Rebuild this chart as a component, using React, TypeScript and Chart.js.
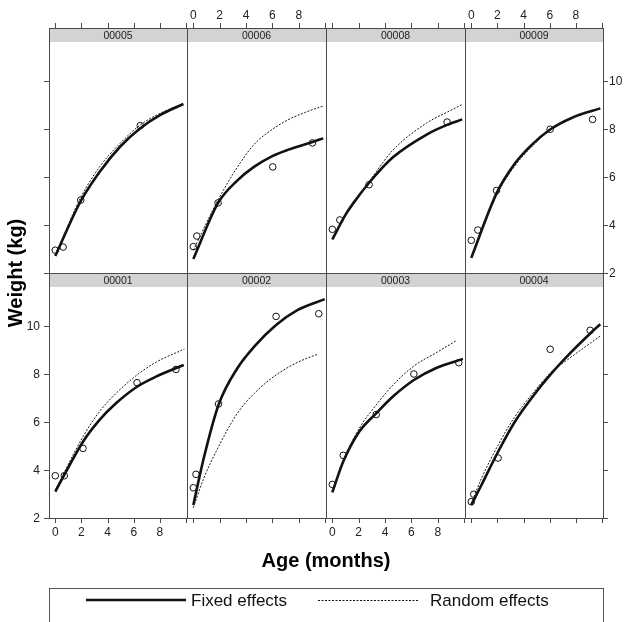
import React, { useEffect, useRef } from "react";
import { Chart, registerables } from "chart.js";

Chart.register(...registerables);

const FONT = "'Liberation Sans', Arial, Helvetica, sans-serif";

const X_MIN = -0.48;
const X_MAX = 10.07;
const Y_MIN = 2;
const Y_MAX = 11.625;
const X_TICKS = [0, 2, 4, 6, 8, 10];
const X_TICK_LABELS = ["0", "2", "4", "6", "8", ""];
const Y_TICKS = [2, 4, 6, 8, 10];
const Y_TICK_LABELS = ["2", "4", "6", "8", "10"];

// ---- panel 00005 ----
const OBS_AGE_00005 = [0, 0.6, 1.95, 6.5];
const OBS_WT_00005 = [2.95, 3.08, 5.04, 8.14];
const FIX_AGE_00005 = [0, 1.95, 3.4, 4.95, 6.5, 8.0, 9.8];
const FIX_WT_00005 = [2.71, 5.0, 6.22, 7.26, 8.03, 8.58, 9.04];
const RND_AGE_00005 = [0, 1.95, 3.4, 4.95, 6.5, 8.0, 9.8];
const RND_WT_00005 = [2.75, 5.15, 6.43, 7.4, 8.17, 8.65, 9.07];

// ---- panel 00006 ----
const OBS_AGE_00006 = [0, 0.27, 1.88, 6.03, 9.04];
const OBS_WT_00006 = [3.1, 3.54, 4.92, 6.42, 7.42];
const FIX_AGE_00006 = [0, 1.88, 3.33, 4.6, 6.03, 7.16, 9.04, 9.86];
const FIX_WT_00006 = [2.58, 4.92, 5.85, 6.42, 6.88, 7.13, 7.46, 7.61];
const RND_AGE_00006 = [0, 1.88, 3.33, 4.6, 6.03, 7.16, 8.43, 9.86];
const RND_WT_00006 = [2.95, 5.05, 6.4, 7.35, 8.0, 8.375, 8.68, 8.96];

// ---- panel 00008 ----
const OBS_AGE_00008 = [0, 0.57, 2.79, 8.71];
const OBS_WT_00008 = [3.82, 4.21, 5.68, 8.29];
const FIX_AGE_00008 = [0, 1.03, 1.54, 2.79, 4.6, 7.16, 8.71, 9.86];
const FIX_WT_00008 = [3.4, 4.45, 4.87, 5.76, 6.82, 7.77, 8.17, 8.4];
const RND_AGE_00008 = [0, 1.03, 2.79, 3.33, 4.6, 7.16, 8.71, 9.86];
const RND_WT_00008 = [3.4, 4.47, 5.8, 6.22, 7.12, 8.25, 8.7, 9.02];

// ---- panel 00009 ----
const OBS_AGE_00009 = [0, 0.5, 1.93, 6.03, 9.27];
const OBS_WT_00009 = [3.36, 3.79, 5.44, 7.99, 8.4];
const FIX_AGE_00009 = [0, 1.93, 3.33, 4.6, 6.03, 7.67, 9.86];
const FIX_WT_00009 = [2.63, 5.32, 6.56, 7.33, 7.98, 8.46, 8.86];
const RND_AGE_00009 = [0, 1.93, 3.33, 4.6, 6.03, 7.67, 9.86];
const RND_WT_00009 = [2.66, 5.22, 6.46, 7.25, 7.95, 8.45, 8.86];

// ---- panel 00001 ----
const OBS_AGE_00001 = [0, 0.69, 2.12, 6.25, 9.23];
const OBS_WT_00001 = [3.76, 3.76, 4.9, 7.64, 8.19];
const FIX_AGE_00001 = [0, 2.12, 3.37, 4.64, 6.25, 7.7, 9.82];
const FIX_WT_00001 = [3.1, 5.18, 6.08, 6.78, 7.47, 7.89, 8.375];
const RND_AGE_00001 = [0, 2.12, 3.37, 4.64, 6.25, 7.7, 9.87];
const RND_WT_00001 = [3.17, 5.39, 6.43, 7.19, 7.96, 8.49, 9.04];

// ---- panel 00002 ----
const OBS_AGE_00002 = [0, 0.2, 1.91, 6.28, 9.52];
const OBS_WT_00002 = [3.26, 3.82, 6.75, 10.4, 10.51];
const FIX_AGE_00002 = [0, 0.79, 1.91, 3.34, 4.62, 6.28, 7.93, 9.97];
const FIX_WT_00002 = [2.54, 4.49, 6.71, 8.24, 9.14, 10.04, 10.67, 11.12];
const RND_AGE_00002 = [0, 0.79, 1.91, 3.34, 4.62, 6.28, 7.93, 9.46];
const RND_WT_00002 = [2.43, 3.65, 4.97, 6.36, 7.19, 7.96, 8.49, 8.83];

// ---- panel 00003 ----
const OBS_AGE_00003 = [0, 0.83, 3.33, 6.19, 9.6];
const OBS_WT_00003 = [3.4, 4.61, 6.31, 8.0, 8.47];
const FIX_AGE_00003 = [0, 0.83, 2.05, 3.33, 4.6, 6.19, 7.93, 9.91];
const FIX_WT_00003 = [3.07, 4.35, 5.6, 6.36, 7.06, 7.75, 8.26, 8.63];
const RND_AGE_00003 = [0, 0.83, 2.05, 3.33, 4.6, 6.19, 7.93, 9.45];
const RND_WT_00003 = [3.07, 4.38, 5.74, 6.71, 7.54, 8.33, 8.9, 9.4];

// ---- panel 00004 ----
const OBS_AGE_00004 = [0, 0.19, 2.05, 6.03, 9.09];
const OBS_WT_00004 = [2.68, 2.99, 4.5, 9.03, 9.82];
const FIX_AGE_00004 = [0, 0.78, 2.05, 3.33, 4.6, 6.03, 7.67, 9.09, 9.86];
const FIX_WT_00004 = [2.54, 3.375, 4.76, 6.01, 6.99, 7.96, 8.93, 9.69, 10.07];
const RND_AGE_00004 = [0, 0.78, 2.05, 3.33, 4.6, 6.03, 7.67, 9.09, 9.86];
const RND_WT_00004 = [2.61, 3.65, 5.04, 6.22, 7.13, 8.03, 8.72, 9.28, 9.58];

const PANELS = [
  { id: "00005", row: 0, col: 0, oa: OBS_AGE_00005, ow: OBS_WT_00005, fa: FIX_AGE_00005, fw: FIX_WT_00005, ra: RND_AGE_00005, rw: RND_WT_00005 },
  { id: "00006", row: 0, col: 1, oa: OBS_AGE_00006, ow: OBS_WT_00006, fa: FIX_AGE_00006, fw: FIX_WT_00006, ra: RND_AGE_00006, rw: RND_WT_00006 },
  { id: "00008", row: 0, col: 2, oa: OBS_AGE_00008, ow: OBS_WT_00008, fa: FIX_AGE_00008, fw: FIX_WT_00008, ra: RND_AGE_00008, rw: RND_WT_00008 },
  { id: "00009", row: 0, col: 3, oa: OBS_AGE_00009, ow: OBS_WT_00009, fa: FIX_AGE_00009, fw: FIX_WT_00009, ra: RND_AGE_00009, rw: RND_WT_00009 },
  { id: "00001", row: 1, col: 0, oa: OBS_AGE_00001, ow: OBS_WT_00001, fa: FIX_AGE_00001, fw: FIX_WT_00001, ra: RND_AGE_00001, rw: RND_WT_00001 },
  { id: "00002", row: 1, col: 1, oa: OBS_AGE_00002, ow: OBS_WT_00002, fa: FIX_AGE_00002, fw: FIX_WT_00002, ra: RND_AGE_00002, rw: RND_WT_00002 },
  { id: "00003", row: 1, col: 2, oa: OBS_AGE_00003, ow: OBS_WT_00003, fa: FIX_AGE_00003, fw: FIX_WT_00003, ra: RND_AGE_00003, rw: RND_WT_00003 },
  { id: "00004", row: 1, col: 3, oa: OBS_AGE_00004, ow: OBS_WT_00004, fa: FIX_AGE_00004, fw: FIX_WT_00004, ra: RND_AGE_00004, rw: RND_WT_00004 },
];

const W = 624;
const H = 622;
const COL_EDGES = [49, 187, 326, 465, 603];
const ROW_TOP = [28, 273];
const ROW_BOTTOM = [273, 518];
const STRIP_H = 14;
const TICK_LEN = 5;

const pts = (xs: number[], ys: number[]) => xs.map((x, i) => ({ x, y: ys[i] }));
const crisp = (v: number) => Math.round(v) + 0.5;

function drawGlobal(ctx: CanvasRenderingContext2D) {
  ctx.save();
  ctx.fillStyle = "#000";
  // axis titles
  ctx.font = `bold 20px ${FONT}`;
  ctx.textAlign = "center";
  ctx.textBaseline = "alphabetic";
  ctx.fillText("Age (months)", (COL_EDGES[0] + COL_EDGES[4]) / 2, 567);
  ctx.save();
  ctx.translate(21.5, (ROW_TOP[0] + ROW_BOTTOM[1]) / 2);
  ctx.rotate(-Math.PI / 2);
  ctx.fillText("Weight (kg)", 0, 0);
  ctx.restore();

  // legend box
  ctx.strokeStyle = "#555";
  ctx.lineWidth = 1;
  ctx.strokeRect(49.5, 588.5, 554, 40);
  const ly = 600;
  ctx.strokeStyle = "#111";
  ctx.lineWidth = 2.6;
  ctx.beginPath();
  ctx.moveTo(86, ly);
  ctx.lineTo(186, ly);
  ctx.stroke();
  ctx.lineWidth = 1;
  ctx.setLineDash([2, 1.5]);
  ctx.beginPath();
  ctx.moveTo(318, ly + 0.5);
  ctx.lineTo(418, ly + 0.5);
  ctx.stroke();
  ctx.setLineDash([]);
  ctx.font = `17px ${FONT}`;
  ctx.textAlign = "left";
  ctx.fillStyle = "#111";
  ctx.fillText("Fixed effects", 191, ly + 6);
  ctx.fillText("Random effects", 430, ly + 6);
  ctx.restore();
}

function makeDeco(panel: any, isFirst: boolean) {
  return {
    id: "deco_" + panel.id,
    afterDraw(chart: any) {
      const ctx: CanvasRenderingContext2D = chart.ctx;
      const a = chart.chartArea;
      const xs = chart.scales.x;
      const ys = chart.scales.y;
      const stripTop = a.top - STRIP_H;
      ctx.save();
      // strip
      ctx.fillStyle = "#d3d3d3";
      ctx.fillRect(a.left, stripTop, a.right - a.left, STRIP_H);
      ctx.fillStyle = "#222";
      ctx.font = `10.5px ${FONT}`;
      ctx.textAlign = "center";
      ctx.textBaseline = "alphabetic";
      ctx.fillText(panel.id, (a.left + a.right) / 2, stripTop + 11);

      // border
      ctx.strokeStyle = "#4a4a4a";
      ctx.lineWidth = 1;
      ctx.strokeRect(crisp(a.left), crisp(stripTop), Math.round(a.right) - Math.round(a.left), Math.round(a.bottom) - Math.round(stripTop));

      // ticks
      ctx.beginPath();
      if (panel.row === 0) {
        X_TICKS.forEach((t) => {
          const x = crisp(xs.getPixelForValue(t));
          ctx.moveTo(x, stripTop);
          ctx.lineTo(x, stripTop - TICK_LEN);
        });
      } else {
        X_TICKS.forEach((t) => {
          const x = crisp(xs.getPixelForValue(t));
          ctx.moveTo(x, a.bottom);
          ctx.lineTo(x, a.bottom + TICK_LEN);
        });
      }
      if (panel.col === 0) {
        Y_TICKS.forEach((t) => {
          const y = crisp(ys.getPixelForValue(t));
          ctx.moveTo(a.left, y);
          ctx.lineTo(a.left - TICK_LEN, y);
        });
      }
      if (panel.col === 3) {
        Y_TICKS.forEach((t) => {
          const y = crisp(ys.getPixelForValue(t));
          ctx.moveTo(a.right, y);
          ctx.lineTo(a.right + TICK_LEN, y);
        });
      }
      ctx.stroke();

      // tick labels
      ctx.fillStyle = "#222";
      ctx.font = `12px ${FONT}`;
      if (panel.row === 0 && panel.col % 2 === 1) {
        ctx.textAlign = "center";
        X_TICKS.forEach((t, i) => ctx.fillText(X_TICK_LABELS[i], xs.getPixelForValue(t), 18.5));
      }
      if (panel.row === 1 && panel.col % 2 === 0) {
        ctx.textAlign = "center";
        X_TICKS.forEach((t, i) => ctx.fillText(X_TICK_LABELS[i], xs.getPixelForValue(t), 535.5));
      }
      if (panel.col === 0 && panel.row === 1) {
        ctx.textAlign = "right";
        Y_TICKS.forEach((t, i) => ctx.fillText(Y_TICK_LABELS[i], a.left - TICK_LEN - 4, ys.getPixelForValue(t) + 4.3));
      }
      if (panel.col === 3 && panel.row === 0) {
        ctx.textAlign = "left";
        Y_TICKS.forEach((t, i) => ctx.fillText(Y_TICK_LABELS[i], a.right + TICK_LEN + 1, ys.getPixelForValue(t) + 4.3));
      }
      ctx.restore();
      if (isFirst) drawGlobal(ctx);
    },
  };
}

function Panel({ panel, index }: { panel: any; index: number }) {
  const ref = useRef<HTMLCanvasElement | null>(null);
  useEffect(() => {
    if (!ref.current) return;
    const left = COL_EDGES[panel.col];
    const right = COL_EDGES[panel.col + 1];
    const top = ROW_TOP[panel.row] + STRIP_H;
    const bottom = ROW_BOTTOM[panel.row];
    const chart = new Chart(ref.current, {
      type: "scatter",
      data: {
        datasets: [
          {
            label: "Random effects",
            data: pts(panel.ra, panel.rw),
            showLine: true,
            borderColor: "#1a1a1a",
            borderWidth: 1,
            borderDash: [2, 1.5],
            pointRadius: 0,
            cubicInterpolationMode: "monotone",
            fill: false,
          },
          {
            label: "Fixed effects",
            data: pts(panel.fa, panel.fw),
            showLine: true,
            borderColor: "#111",
            borderWidth: 2.6,
            pointRadius: 0,
            cubicInterpolationMode: "monotone",
            fill: false,
          },
          {
            label: "Observed",
            data: pts(panel.oa, panel.ow),
            showLine: false,
            pointStyle: "circle",
            pointRadius: 3.3,
            pointBorderWidth: 1,
            pointBorderColor: "#111",
            pointBackgroundColor: "rgba(255,255,255,0)",
            borderColor: "#111",
            backgroundColor: "rgba(255,255,255,0)",
          },
        ],
      } as any,
      options: {
        animation: false,
        responsive: false,
        events: [],
        layout: { padding: { left, right: W - right, top, bottom: H - bottom } },
        plugins: { legend: { display: false }, tooltip: { enabled: false } },
        scales: {
          x: { type: "linear", min: X_MIN, max: X_MAX, display: false },
          y: { type: "linear", min: Y_MIN, max: Y_MAX, display: false },
        },
      } as any,
      plugins: [makeDeco(panel, index === 0)],
    });
    return () => chart.destroy();
  }, [panel, index]);
  return (
    <canvas
      ref={ref}
      width={W}
      height={H}
      style={{ position: "absolute", left: 0, top: 0, width: W, height: H }}
    />
  );
}

export default function App() {
  return (
    <div style={{ position: "absolute", left: 0, top: 0, width: W, height: H, background: "#fff", overflow: "hidden" }}>
      {PANELS.map((p, i) => (
        <Panel key={p.id} panel={p} index={i} />
      ))}
    </div>
  );
}
